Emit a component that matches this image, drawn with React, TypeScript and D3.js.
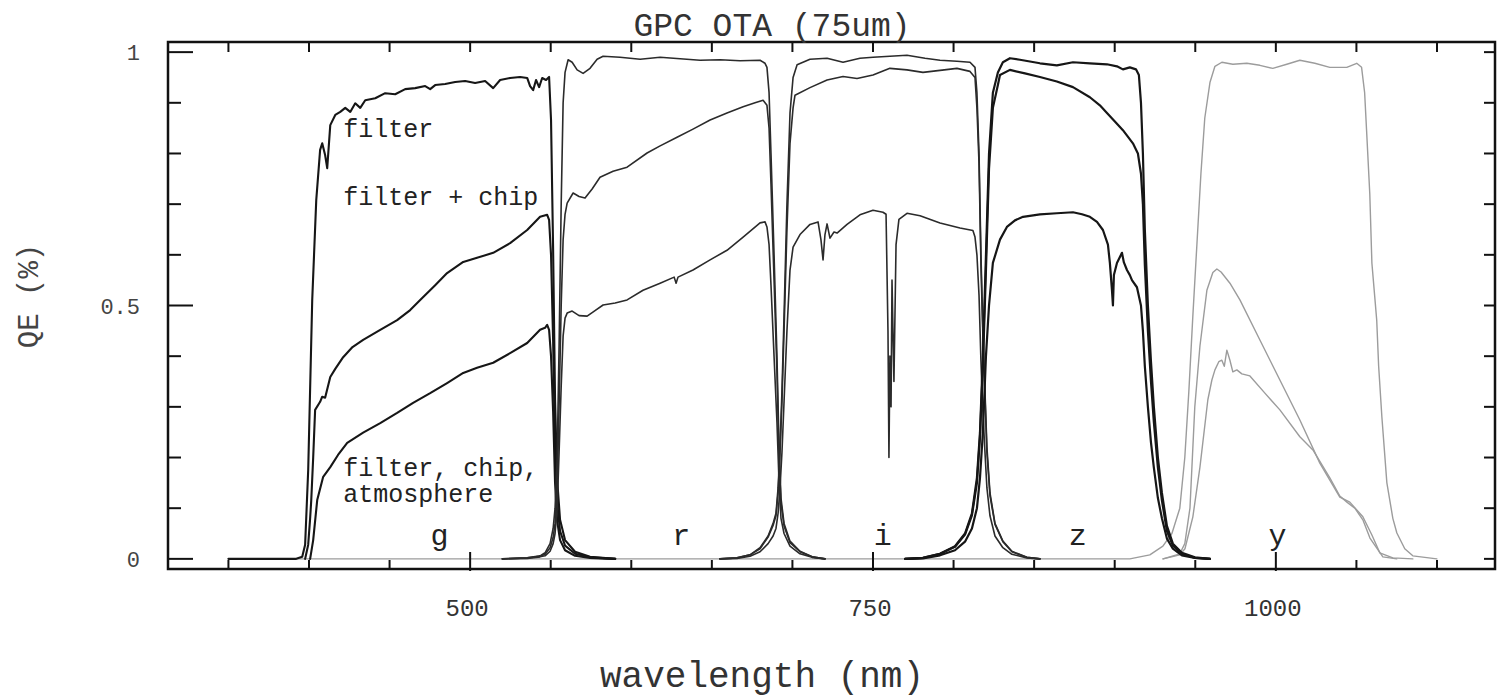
import React from 'react';
import * as d3 from 'd3';

type Pt = [number, number];

// ---- wavelength (nm) vs QE ----
const gFilter: Pt[] = [[350,0],[392.1,0],[395.8,0.004],[397.6,0.028],[399.5,0.175],[402,0.511],[404.5,0.708],[406.9,0.807],[408.2,0.82],[410,0.797],[411.3,0.771],[413.2,0.856],[416.3,0.876],[419.4,0.882],[422.5,0.89],[425.6,0.882],[428.7,0.899],[431.8,0.89],[434.9,0.905],[441.1,0.909],[447.3,0.919],[453.5,0.917],[459.7,0.927],[465.9,0.929],[472.1,0.933],[475.2,0.927],[478.3,0.935],[484.5,0.937],[490.7,0.941],[496.9,0.943],[503.1,0.939],[509.3,0.943],[514.3,0.929],[518.6,0.945],[524.8,0.949],[531,0.951],[535.4,0.949],[537.2,0.933],[539.1,0.925],[540.9,0.945],[542.8,0.931],[544.7,0.949],[547.1,0.945],[549,0.951],[550.2,0.866],[551.5,0.609],[552.7,0.314],[554,0.156],[555.8,0.077],[558.9,0.037],[565.1,0.014],[574.4,0.004],[590,0]];
const gChip: Pt[] = [[397.6,0],[399.5,0.028],[400.7,0.08],[401.4,0.116],[402.6,0.2],[403.8,0.294],[406.9,0.31],[408.2,0.32],[410,0.318],[413.2,0.359],[416.3,0.375],[421.2,0.398],[427,0.418],[433.6,0.432],[444.2,0.452],[454.7,0.471],[462.8,0.491],[469,0.511],[478.3,0.54],[485.7,0.564],[495.7,0.586],[504.3,0.594],[514.3,0.604],[524.8,0.623],[535.4,0.649],[543.4,0.675],[547.8,0.679],[549,0.669],[550.2,0.6],[551.5,0.43],[552.7,0.22],[554,0.11],[555.8,0.055],[558.9,0.026],[565.1,0.01],[574.4,0.003],[590,0]];
const gAtm: Pt[] = [[400.7,0],[402.6,0.037],[405.1,0.116],[408.8,0.162],[413.2,0.181],[418,0.205],[423.7,0.229],[433.6,0.249],[444.2,0.268],[454.7,0.288],[464.6,0.308],[475.2,0.327],[485.7,0.347],[495.7,0.367],[504.3,0.377],[514.3,0.387],[524.8,0.406],[535.4,0.426],[543.4,0.452],[546.5,0.456],[547.8,0.462],[549,0.452],[550.2,0.4],[551.5,0.29],[552.7,0.15],[554,0.075],[555.8,0.037],[558.9,0.017],[565.1,0.006],[574.4,0.002],[590,0]];

const rFilter: Pt[] = [[520,0],[535.4,0.002],[543.4,0.006],[546.5,0.012],[549.6,0.03],[551.5,0.06],[552.7,0.1],[554,0.2],[555.2,0.42],[556.5,0.7],[557.7,0.9],[558.9,0.96],[560.8,0.985],[563.3,0.98],[566.4,0.965],[570.1,0.958],[574.4,0.968],[578.8,0.986],[582.5,0.992],[593,0.99],[605.5,0.986],[617.9,0.99],[630.3,0.987],[642.7,0.984],[655.1,0.985],[667.5,0.983],[679.9,0.984],[683,0.978],[684.2,0.97],[685.5,0.92],[686.7,0.8],[688.6,0.6],[690.4,0.4],[691.7,0.22],[692.9,0.12],[694.8,0.07],[698.5,0.035],[704.7,0.015],[712.2,0.004],[720.2,0]];
const rChip: Pt[] = [[520,0],[535.4,0.002],[543.4,0.005],[546.5,0.009],[549.6,0.022],[551.5,0.042],[552.7,0.07],[554,0.14],[555.2,0.3],[556.5,0.5],[557.7,0.63],[558.9,0.68],[560.2,0.702],[563.9,0.722],[567.6,0.715],[571.3,0.712],[575.7,0.73],[580.6,0.753],[588.7,0.765],[597.4,0.773],[609.8,0.801],[617.9,0.815],[628.4,0.832],[638.3,0.848],[648.9,0.866],[659.4,0.88],[669.4,0.892],[676.8,0.9],[681.8,0.905],[684.2,0.895],[685.5,0.85],[686.7,0.74],[688.6,0.55],[690.4,0.37],[691.7,0.2],[692.9,0.11],[694.8,0.065],[698.5,0.032],[704.7,0.014],[712.2,0.004],[720.2,0]];
const rAtm: Pt[] = [[520,0],[535.4,0.001],[543.4,0.004],[546.5,0.006],[549.6,0.015],[551.5,0.03],[552.7,0.05],[554,0.1],[555.2,0.21],[556.5,0.34],[557.7,0.44],[558.9,0.475],[560.2,0.485],[563.3,0.489],[567.6,0.48],[572.6,0.479],[577.5,0.49],[582.5,0.501],[590,0.505],[597.4,0.511],[607.3,0.53],[617.9,0.544],[626.6,0.556],[627.8,0.544],[629,0.556],[638.3,0.57],[648.9,0.59],[659.4,0.609],[669.4,0.635],[679.9,0.663],[683,0.665],[684.2,0.655],[685.5,0.62],[686.7,0.54],[688.6,0.4],[690.4,0.27],[691.7,0.15],[692.9,0.08],[694.8,0.05],[698.5,0.025],[704.7,0.01],[712.2,0.003],[720.2,0]];

const iFilter: Pt[] = [[655,0],[665.6,0.002],[673.7,0.008],[679.9,0.022],[684.9,0.045],[688,0.07],[689.8,0.09],[691.1,0.14],[692.3,0.22],[693.5,0.33],[694.8,0.48],[696.6,0.7],[698.5,0.88],[700.4,0.95],[702.9,0.975],[710.9,0.986],[721.5,0.988],[731.4,0.98],[741.9,0.988],[750,0.99],[760.5,0.992],[771.1,0.994],[782.3,0.988],[791.6,0.984],[802.1,0.982],[810.2,0.98],[813.3,0.97],[814.5,0.92],[815.8,0.8],[817,0.6],[818.2,0.45],[819.5,0.33],[820.7,0.22],[822.6,0.13],[825.7,0.07],[830.6,0.035],[836.2,0.015],[845.5,0.003],[853.6,0]];
const iChip: Pt[] = [[655,0],[665.6,0.002],[673.7,0.008],[679.9,0.02],[684.9,0.043],[688,0.066],[689.8,0.085],[691.1,0.13],[692.3,0.21],[693.5,0.31],[694.8,0.45],[696.6,0.65],[698.5,0.82],[700.4,0.89],[701.6,0.915],[710.9,0.93],[721.5,0.945],[731.4,0.952],[740.1,0.948],[750,0.955],[760.5,0.968],[771.1,0.965],[781,0.96],[791.6,0.964],[802.1,0.968],[810.2,0.962],[813.3,0.95],[814.5,0.89],[815.8,0.78],[817,0.58],[818.2,0.44],[819.5,0.32],[820.7,0.21],[822.6,0.125],[825.7,0.068],[830.6,0.034],[836.2,0.014],[845.5,0.003],[853.6,0]];
const iAtm: Pt[] = [[655,0],[665.6,0.001],[673.7,0.005],[679.9,0.014],[684.9,0.03],[688,0.045],[689.8,0.06],[691.1,0.09],[692.3,0.14],[693.5,0.21],[694.8,0.31],[696.6,0.45],[698.5,0.57],[700.4,0.615],[704.7,0.64],[710.9,0.66],[715.9,0.665],[717.7,0.63],[719,0.59],[720.2,0.64],[721.5,0.661],[723.3,0.633],[725.8,0.645],[727.7,0.643],[733.9,0.66],[741.9,0.679],[750,0.688],[756.2,0.684],[758.1,0.68],[759.3,0.45],[759.9,0.2],[760.5,0.4],[761.2,0.3],[761.8,0.55],[763,0.35],[764.3,0.62],[766.1,0.67],[771.1,0.682],[779.2,0.677],[791.6,0.663],[804,0.653],[812,0.648],[813.3,0.635],[814.5,0.6],[815.8,0.52],[817,0.39],[818.2,0.29],[819.5,0.21],[820.7,0.14],[822.6,0.085],[825.7,0.045],[830.6,0.022],[836.2,0.009],[845.5,0.002],[853.6,0]];

const zFilter: Pt[] = [[770,0],[781,0.002],[791.6,0.01],[800.9,0.025],[807.1,0.05],[811.4,0.09],[814.5,0.16],[816.4,0.25],[818.2,0.4],[820.1,0.6],[822,0.8],[824.4,0.92],[827.5,0.96],[830.6,0.98],[835,0.988],[841.2,0.985],[853.6,0.978],[864.1,0.974],[874.1,0.98],[884.6,0.978],[895.2,0.976],[901.4,0.972],[905.1,0.966],[909.4,0.97],[913.2,0.966],[915,0.955],[916.3,0.9],[917.5,0.8],[918.7,0.65],[920.6,0.5],[922.5,0.39],[924.3,0.3],[926.8,0.2],[929.3,0.13],[932.4,0.065],[936.1,0.03],[941.7,0.012],[949.8,0.003],[959.1,0]];
const zChip: Pt[] = [[770,0],[781,0.002],[791.6,0.01],[800.9,0.024],[807.1,0.048],[811.4,0.086],[814.5,0.15],[816.4,0.24],[818.2,0.38],[820.1,0.57],[822,0.77],[824.4,0.89],[827.5,0.935],[828.8,0.955],[835,0.965],[844.3,0.958],[853.6,0.951],[864.1,0.942],[874.1,0.931],[884.6,0.911],[890.8,0.895],[895.2,0.88],[900.1,0.863],[905.1,0.846],[911.3,0.82],[914.4,0.8],[916.3,0.76],[917.5,0.7],[918.7,0.58],[920.6,0.45],[922.5,0.35],[924.3,0.27],[926.8,0.18],[929.3,0.115],[932.4,0.055],[936.1,0.026],[941.7,0.01],[949.8,0.002],[959.1,0]];
const zAtm: Pt[] = [[770,0],[781,0.001],[791.6,0.007],[800.9,0.017],[807.1,0.034],[811.4,0.06],[814.5,0.1],[816.4,0.16],[818.2,0.25],[820.1,0.4],[822,0.5],[824.4,0.584],[828.8,0.63],[833.1,0.655],[838.1,0.668],[843.1,0.675],[853.6,0.68],[864.1,0.682],[874.1,0.684],[879.7,0.68],[884.6,0.675],[889,0.665],[892.7,0.649],[895.8,0.62],[897,0.584],[898.3,0.53],[898.9,0.5],[899.5,0.56],[901.4,0.584],[904.5,0.604],[905.7,0.585],[907.6,0.57],[909.4,0.56],[910.7,0.55],[913.8,0.536],[916.3,0.5],[917.5,0.45],[918.7,0.38],[920.6,0.3],[922.5,0.23],[924.3,0.18],[926.8,0.12],[929.3,0.08],[932.4,0.04],[936.1,0.02],[941.7,0.007],[949.8,0.002],[959.1,0]];

const yFilter: Pt[] = [[350,0],[909.4,0],[921.8,0.008],[929.9,0.025],[935.5,0.05],[940.4,0.1],[943.5,0.2],[946,0.33],[948.5,0.48],[951,0.62],[953.5,0.76],[955.9,0.87],[959.1,0.94],[962.2,0.972],[966.5,0.98],[973.3,0.976],[982,0.978],[990.1,0.974],[998.1,0.968],[1006.8,0.976],[1014.9,0.984],[1024.2,0.978],[1033.5,0.97],[1044,0.97],[1050.2,0.978],[1053.2,0.97],[1055.1,0.92],[1056.3,0.846],[1058.3,0.72],[1059.6,0.584],[1061.3,0.52],[1062.6,0.471],[1063.8,0.38],[1065.8,0.28],[1068.9,0.15],[1072.6,0.08],[1075.1,0.051],[1080,0.02],[1085,0.006],[1099.9,0]];
const yChip: Pt[] = [[930,0],[940.4,0.01],[943.5,0.03],[946.7,0.1],[949.7,0.3],[952.9,0.42],[957.2,0.53],[960.9,0.565],[963.4,0.572],[966,0.566],[971.5,0.544],[977.7,0.511],[990.1,0.432],[1002.5,0.353],[1014.9,0.274],[1027.3,0.189],[1039.7,0.122],[1045.9,0.112],[1054,0.083],[1059.6,0.047],[1064.5,0.012],[1072.6,0.002],[1085,0]];
const yAtm: Pt[] = [[930,0],[940.4,0.008],[943.6,0.02],[946.7,0.06],[948.5,0.083],[952.9,0.181],[957.8,0.314],[960.3,0.353],[962.2,0.373],[964.6,0.389],[966.5,0.392],[968,0.38],[969.6,0.412],[971.5,0.392],[973.3,0.369],[975.8,0.373],[978.9,0.365],[983.9,0.361],[993.2,0.327],[1002.5,0.294],[1014.9,0.241],[1023,0.215],[1033.5,0.16],[1039.7,0.124],[1044.1,0.112],[1049,0.1],[1054,0.077],[1058.4,0.041],[1066.4,0.004],[1075,0]];

const bandNames = ['g', 'r', 'i', 'z', 'y'];
const bandCenters = [481, 631, 756, 877, 1001];
const bandCurves: Pt[][][] = [
  [gFilter, gChip, gAtm],
  [rFilter, rChip, rAtm],
  [iFilter, iChip, iAtm],
  [zFilter, zChip, zAtm],
  [yFilter, yChip, yAtm],
];

const xTickValues = d3.range(350, 1101, 50);
const xMajorTicks = [500, 750, 1000];
const yTickValues = d3.range(0, 10.5, 1).map((v) => v / 10);
const yMajorTicks = [0, 0.5, 1];
const yTickLabels = ['0', '0.5', '1'];

const curveLabels = [
  { lines: ['filter'], wl: 421.2, qe: 0.832 },
  { lines: ['filter + chip'], wl: 421.2, qe: 0.698 },
  { lines: ['filter, chip,', 'atmosphere'], wl: 421.2, qe: 0.164 },
];

const titleText = 'GPC OTA (75um)';
const xTitle = 'wavelength (nm)';
const yTitle = 'QE (%)';

const FONT = "'Liberation Mono', 'Courier New', Courier, monospace";

export default function App() {
  const x = d3.scaleLinear().domain([312.5, 1136]).range([168, 1495]);
  const y = d3.scaleLinear().domain([-0.02, 1.02]).range([569, 42]);
  const line = d3
    .line<Pt>()
    .x((d) => x(d[0]))
    .y((d) => y(d[1]));

  const [x0, x1] = x.range();
  const [y0, y1] = y.range();

  const bandStyle = [
    { stroke: '#161616', w: 2.1 },
    { stroke: '#2b2b2b', w: 1.6 },
    { stroke: '#2b2b2b', w: 1.6 },
    { stroke: '#161616', w: 2.2 },
    { stroke: '#9c9c9c', w: 1.4 },
  ];

  const drawOrder = [4, 0, 1, 2, 3];

  return (
    <svg
      width={1501}
      height={699}
      style={{ position: 'absolute', left: 0, top: 0, background: '#fff' }}
      fontFamily={FONT}
    >
      <rect x={0} y={0} width={1501} height={699} fill="#ffffff" />
      <defs>
        <clipPath id="plotClip">
          <rect x={x0} y={y1} width={x1 - x0} height={y0 - y1} />
        </clipPath>
      </defs>

      <g clipPath="url(#plotClip)" fill="none" strokeLinejoin="round" strokeLinecap="round">
        {drawOrder.map((bi) =>
          bandCurves[bi].map((c, ci) => (
            <path
              key={`${bi}-${ci}`}
              d={line(c) || ''}
              stroke={bandStyle[bi].stroke}
              strokeWidth={bandStyle[bi].w}
            />
          ))
        )}
      </g>

      {/* frame */}
      <rect x={x0} y={y1} width={x1 - x0} height={y0 - y1} fill="none" stroke="#111" strokeWidth={2.5} />

      {/* x ticks bottom & top */}
      {xTickValues.map((v) => {
        const major = xMajorTicks.includes(v);
        return (
          <g key={`xt${v}`} stroke="#111" strokeWidth={2}>
            <line x1={x(v)} x2={x(v)} y1={y0 + (major ? 2 : 0)} y2={y0 - (major ? 17 : 9)} />
            <line x1={x(v)} x2={x(v)} y1={y1} y2={y1 + 10} />
          </g>
        );
      })}
      {/* y ticks left & right */}
      {yTickValues.map((v) => {
        const major = yMajorTicks.some((m) => Math.abs(m - v) < 1e-6);
        return (
          <g key={`yt${v}`} stroke="#111" strokeWidth={2}>
            <line x1={x0} x2={x0 + (major ? 25 : 13)} y1={y(v)} y2={y(v)} />
            <line x1={x1} x2={x1 - 11} y1={y(v)} y2={y(v)} />
          </g>
        );
      })}

      {/* tick labels */}
      {xMajorTicks.map((v) => (
        <text key={`xl${v}`} x={x(v) - 3} y={616} textAnchor="middle" fontSize={24} fill="#333">
          {v}
        </text>
      ))}
      {yMajorTicks.map((v, i) => (
        <text key={`yl${v}`} x={140} y={y(v) + 8} textAnchor="end" fontSize={22} fill="#444">
          {yTickLabels[i]}
        </text>
      ))}

      {/* band labels */}
      {bandNames.map((b, i) => (
        <text
          key={`b${b}`}
          x={x(bandCenters[i])}
          y={y(0.028)}
          textAnchor="middle"
          fontSize={30}
          fill="#222"
        >
          {b}
        </text>
      ))}

      {/* curve labels */}
      {curveLabels.map((l, i) =>
        l.lines.map((t, j) => (
          <text key={`cl${i}-${j}`} x={x(l.wl)} y={y(l.qe) + j * 26} fontSize={25} fill="#222">
            {t}
          </text>
        ))
      )}

      {/* titles */}
      <text x={772} y={36} textAnchor="middle" fontSize={33} fill="#333">
        {titleText}
      </text>
      <text x={762} y={687} textAnchor="middle" fontSize={36} fill="#333">
        {xTitle}
      </text>
      <text
        transform={`translate(38, 296) rotate(-90)`}
        textAnchor="middle"
        fontSize={29}
        fill="#444"
      >
        {yTitle}
      </text>
    </svg>
  );
}
